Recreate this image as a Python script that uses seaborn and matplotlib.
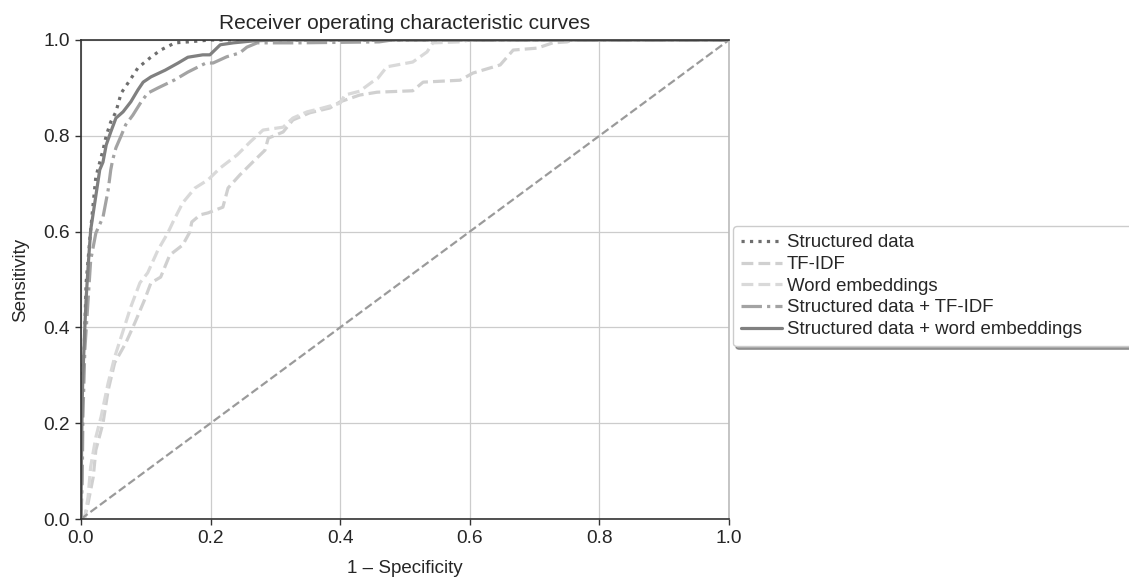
import numpy as np
import pandas as pd
import matplotlib
matplotlib.use('Agg')
import matplotlib.pyplot as plt
import seaborn as sns

# ROC curves
sd_fpr = [0, 0.001, 0.002, 0.005, 0.008, 0.014, 0.019, 0.023, 0.034, 0.039, 0.046, 0.054, 0.062,
          0.076, 0.088, 0.106, 0.123, 0.145, 0.165, 0.20, 0.25, 1.0]
sd_tpr = [0, 0.2, 0.3, 0.353, 0.493, 0.589, 0.66, 0.714, 0.77, 0.80, 0.829, 0.85, 0.889,
          0.917, 0.942, 0.962, 0.979, 0.994, 0.996, 1.0, 1.0, 1.0]

tfidf_fpr = [0, 0.006, 0.011, 0.019, 0.023, 0.034, 0.042, 0.052, 0.069, 0.083, 0.098, 0.108, 0.123,
             0.137, 0.157, 0.168, 0.171, 0.184, 0.196, 0.219, 0.227, 0.245, 0.265, 0.284, 0.289,
             0.312, 0.327, 0.353, 0.384, 0.40, 0.43, 0.457, 0.512, 0.528, 0.585, 0.605, 0.647,
             0.667, 0.704, 0.728, 0.75, 0.76, 1.0]
tfidf_tpr = [0, 0.004, 0.033, 0.088, 0.144, 0.2, 0.269, 0.326, 0.367, 0.409, 0.457, 0.493, 0.505,
             0.551, 0.572, 0.599, 0.62, 0.635, 0.639, 0.651, 0.691, 0.718, 0.745, 0.77, 0.795,
             0.808, 0.833, 0.848, 0.858, 0.871, 0.885, 0.891, 0.894, 0.912, 0.916, 0.931, 0.948,
             0.979, 0.983, 0.994, 0.996, 1.0, 1.0]

we_fpr = [0, 0.006, 0.011, 0.015, 0.023, 0.031, 0.042, 0.052, 0.062, 0.077, 0.091, 0.103, 0.119,
          0.134, 0.142, 0.157, 0.176, 0.196, 0.215, 0.241, 0.261, 0.281, 0.312, 0.327, 0.349,
          0.373, 0.40, 0.407, 0.43, 0.449, 0.458, 0.472, 0.512, 0.534, 0.543, 0.585, 0.60, 1.0]
we_tpr = [0, 0.004, 0.046, 0.109, 0.171, 0.213, 0.284, 0.338, 0.38, 0.443, 0.493, 0.514, 0.562,
          0.597, 0.62, 0.66, 0.691, 0.708, 0.733, 0.76, 0.787, 0.812, 0.818, 0.837, 0.85,
          0.858, 0.868, 0.885, 0.893, 0.912, 0.92, 0.944, 0.954, 0.975, 0.994, 0.996, 1.0, 1.0]

sdtf_fpr = [0, 0.002, 0.003, 0.006, 0.011, 0.015, 0.023, 0.034, 0.042, 0.046, 0.049, 0.054, 0.062,
            0.069, 0.08, 0.093, 0.103, 0.119, 0.145, 0.165, 0.193, 0.204, 0.225, 0.245, 0.256,
            0.272, 0.333, 0.46, 0.48, 1.0]
sdtf_tpr = [0, 0.08, 0.213, 0.353, 0.457, 0.54, 0.597, 0.63, 0.687, 0.729, 0.75, 0.775, 0.80,
            0.823, 0.843, 0.871, 0.889, 0.90, 0.917, 0.933, 0.952, 0.952, 0.965, 0.973, 0.985,
            0.994, 0.994, 0.996, 1.0, 1.0]

sdwe_fpr = [0, 0.001, 0.002, 0.003, 0.006, 0.008, 0.011, 0.015, 0.022, 0.029, 0.034, 0.039, 0.046,
            0.054, 0.065, 0.077, 0.088, 0.096, 0.108, 0.13, 0.15, 0.165, 0.188, 0.199, 0.215,
            0.235, 0.265, 0.30, 1.0]
sdwe_tpr = [0, 0.15, 0.25, 0.3, 0.4, 0.46, 0.526, 0.603, 0.666, 0.729, 0.745, 0.781, 0.808,
            0.837, 0.85, 0.871, 0.896, 0.912, 0.923, 0.937, 0.952, 0.964, 0.969, 0.969, 0.99,
            0.994, 0.998, 1.0, 1.0]

chance = [0, 1]

curves = [
    ('Structured data', sd_fpr, sd_tpr, '#6e6e6e', ':'),
    ('TF-IDF', tfidf_fpr, tfidf_tpr, '#d0d0d0', '--'),
    ('Word embeddings', we_fpr, we_tpr, '#d9d9d9', '--'),
    ('Structured data + TF-IDF', sdtf_fpr, sdtf_tpr, '#a3a3a3', '-.'),
    ('Structured data + word embeddings', sdwe_fpr, sdwe_tpr, '#808080', '-'),
]

sns.set_style('whitegrid', {'grid.color': '#cccccc', 'axes.edgecolor': '#333333',
                            'xtick.bottom': True, 'ytick.left': True})
plt.rcParams['font.family'] = ['Liberation Sans', 'DejaVu Sans']
plt.rcParams['axes.linewidth'] = 1.2

fig = plt.figure(figsize=(11.29, 5.77), dpi=100)
ax = fig.add_axes([0.0717, 0.1005, 0.5740, 0.8302])

for name, fx, fy, col, ls in curves:
    df = pd.DataFrame({'fpr': fx, 'tpr': fy})
    sns.lineplot(data=df, x='fpr', y='tpr', sort=False, estimator=None, ax=ax,
                 color=col, linestyle=ls, linewidth=2.3, label=name)

sns.lineplot(x=chance, y=chance, ax=ax, color='#9a9a9a', linestyle='--',
             linewidth=1.6, legend=False)

ax.set_xlim(0, 1)
ax.set_ylim(0, 1)
ax.set_xticks(np.arange(0, 1.01, 0.2))
ax.set_yticks(np.arange(0, 1.01, 0.2))
ax.tick_params(axis='both', labelsize=13.8, length=4, width=1, color='#333333', pad=4)
ax.grid(True, color='#cccccc', linewidth=0.9)
ax.spines['right'].set_color('#bbbbbb')
ax.set_title('Receiver operating characteristic curves', fontsize=15, pad=8)
ax.set_xlabel('1 \u2013 Specificity', fontsize=13.5, labelpad=9)
ax.set_ylabel('Sensitivity', fontsize=13.5, labelpad=10)

ax.legend(loc='center left', bbox_to_anchor=(1.006, 0.486, 0.75, 0), mode='expand',
          fontsize=13.4, frameon=True, fancybox=True, shadow=True, framealpha=1,
          edgecolor='#cccccc', labelspacing=0.25, handlelength=2.2, handletextpad=0.25,
          borderaxespad=0, borderpad=0.45)

plt.savefig('out.png', dpi=100)
